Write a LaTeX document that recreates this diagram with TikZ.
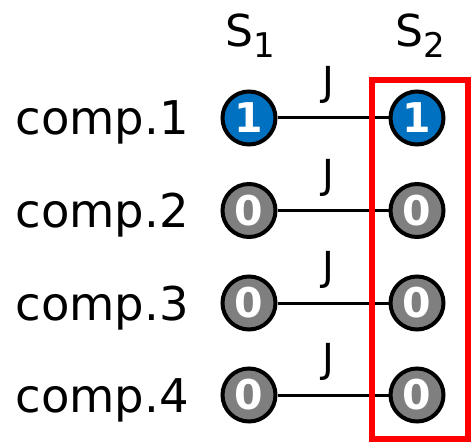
\documentclass[tikz,border=0pt]{standalone}
\usepackage{fontspec}
\setmainfont{DejaVu Sans}
\definecolor{spinblue}{HTML}{0070C0}
\definecolor{spingray}{HTML}{7F7F7F}
\begin{document}
\begin{tikzpicture}[x=1pt,y=-1pt,
  spin/.style={circle,draw=black,line width=4pt,minimum size=53pt,inner sep=0pt,
    text=white,font=\fontsize{41}{43}\selectfont\bfseries},
  upspin/.style={spin,fill=spinblue},
  downspin/.style={spin,fill=spingray},
  comp/.style={anchor=base east,inner sep=0pt,font=\fontsize{46.5}{50}\selectfont},
  coupling/.style={inner sep=0pt,font=\fontsize{40}{44}\selectfont},
  bond/.style={line width=3pt,draw=black},
  site/.style={anchor=base west,inner sep=0pt,font=\fontsize{44}{48}\selectfont},
  focus/.style={draw=red,line width=6pt}]
\useasboundingbox (0,0) rectangle (472,444);

% site labels
\node[site] (s1) at (225,47) {S\raisebox{-11pt}{\fontsize{34}{36}\selectfont 1}};
\node[site] (s2) at (395,47) {S\raisebox{-11pt}{\fontsize{34}{36}\selectfont 2}};

% component labels
\node[comp] (c1) at (189,135) {comp.1};
\node[comp] (c2) at (189,227.5) {comp.2};
\node[comp] (c3) at (189,320) {comp.3};
\node[comp] (c4) at (189,412) {comp.4};

% spins
\node[upspin]   (a1) at (249,118)   {1};
\node[upspin]   (b1) at (417,118)   {1};
\node[downspin] (a2) at (249,210.5) {0};
\node[downspin] (b2) at (417,210.5) {0};
\node[downspin] (a3) at (249,303)   {0};
\node[downspin] (b3) at (417,303)   {0};
\node[downspin] (a4) at (249,395)   {0};
\node[downspin] (b4) at (417,395)   {0};

% couplings
\foreach \i/\y in {1/85,2/177.5,3/270,4/362}{
  \draw[bond] (a\i) -- (b\i);
  \node[coupling] (j\i) at (328,\y) {J};
}

% highlighted site
\draw[focus] (372,80) rectangle (468,439);
\end{tikzpicture}
\end{document}
